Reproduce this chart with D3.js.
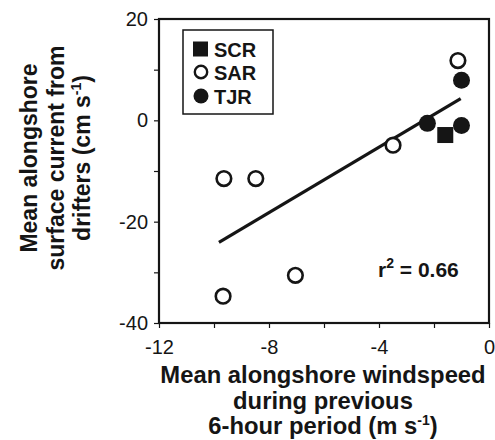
<!DOCTYPE html>
<html>
<head>
<meta charset="utf-8">
<script src="https://cdn.jsdelivr.net/npm/d3@7"></script>
<style>
  html, body { margin: 0; padding: 0; background: #fff; }
  svg { display: block; font-family: Arial, "Liberation Sans", Helvetica, sans-serif; }
</style>
</head>
<body>
<svg id="chart" width="495" height="440"></svg>
<script>
// Wind vs. surface current, by river plume
const sarWind = [-1.13, -3.49, -9.64, -8.48, -7.04, -9.67];
const sarCurrent = [11.8, -4.9, -11.5, -11.5, -30.6, -34.7];
const tjrWind = [-1.0, -2.24, -1.0];
const tjrCurrent = [7.9, -0.6, -1.0];
const scrWind = [-1.59];
const scrCurrent = [-2.9];

// Least-squares fit line end points
const fitWind = [-9.82, -1.03];
const fitCurrent = [-24.1, 4.3];
const rSquared = "0.66";

const xTicks = [-12, -10, -8, -6, -4, -2, 0];
const xTickLabels = ["-12", "", "-8", "", "-4", "", "0"];
const yTicks = [20, 10, 0, -10, -20, -30, -40];
const yTickLabels = ["20", "", "0", "", "-20", "", "-40"];

const legendNames = ["SCR", "SAR", "TJR"];

const svg = d3.select("#chart");
const ink = "#151515";

const x = d3.scaleLinear().domain([-12, 0]).range([159, 489]);
const y = d3.scaleLinear().domain([-40, 20]).range([323, 19]);

// Axes with outward ticks
const xAxis = d3.axisBottom(x).tickValues(xTicks)
  .tickFormat((d, i) => xTickLabels[i]).tickSize(5).tickPadding(8);
const yAxis = d3.axisLeft(y).tickValues(yTicks)
  .tickFormat((d, i) => yTickLabels[i]).tickSize(5).tickPadding(6);

const gx = svg.append("g").attr("transform", `translate(0,${y(-40)})`).call(xAxis);
const gy = svg.append("g").attr("transform", `translate(${x(-12)},0)`).call(yAxis);
[gx, gy].forEach(g => {
  g.select(".domain").remove();
  g.selectAll(".tick line").attr("stroke", ink).attr("stroke-width", 1.2);
  g.selectAll(".tick text").attr("fill", ink).style("font-size", "20px");
});
gx.selectAll(".tick text").attr("dy", "0.9em");

// Frame
svg.append("rect")
  .attr("x", x(-12)).attr("y", y(20))
  .attr("width", x(0) - x(-12)).attr("height", y(-40) - y(20))
  .attr("fill", "none").attr("stroke", ink).attr("stroke-width", 2.2);

// Fit line
svg.append("line")
  .attr("x1", x(fitWind[0])).attr("y1", y(fitCurrent[0]))
  .attr("x2", x(fitWind[1])).attr("y2", y(fitCurrent[1]))
  .attr("stroke", ink).attr("stroke-width", 3.2);

// Points
const sar = sarWind.map((w, i) => ({ w, c: sarCurrent[i] }));
const tjr = tjrWind.map((w, i) => ({ w, c: tjrCurrent[i] }));
const scr = scrWind.map((w, i) => ({ w, c: scrCurrent[i] }));

svg.append("g").selectAll("rect").data(scr).join("rect")
  .attr("x", d => x(d.w) - 8).attr("y", d => y(d.c) - 8)
  .attr("width", 16).attr("height", 16).attr("fill", ink);

svg.append("g").selectAll("circle").data(tjr).join("circle")
  .attr("cx", d => x(d.w)).attr("cy", d => y(d.c)).attr("r", 8.5).attr("fill", ink);

svg.append("g").selectAll("circle").data(sar).join("circle")
  .attr("cx", d => x(d.w)).attr("cy", d => y(d.c)).attr("r", 7.3)
  .attr("fill", "#fff").attr("stroke", ink).attr("stroke-width", 2.6);

// Legend
const lg = svg.append("g");
lg.append("rect").attr("x", 183).attr("y", 30).attr("width", 90).attr("height", 84)
  .attr("fill", "#fff").attr("stroke", ink).attr("stroke-width", 1.5);
const rowY = [49, 72, 96];
lg.append("rect").attr("x", 193).attr("y", rowY[0] - 7.5).attr("width", 15).attr("height", 15).attr("fill", ink);
lg.append("circle").attr("cx", 201).attr("cy", rowY[1]).attr("r", 6.2)
  .attr("fill", "#fff").attr("stroke", ink).attr("stroke-width", 2.4);
lg.append("circle").attr("cx", 201).attr("cy", rowY[2]).attr("r", 7.5).attr("fill", ink);
lg.selectAll("text").data(legendNames).join("text")
  .attr("x", 214).attr("y", (d, i) => rowY[i] + 7.5)
  .attr("fill", ink).style("font-size", "20px").style("font-weight", "bold")
  .text(d => d);

// r-squared annotation
const rt = svg.append("text").attr("x", 378).attr("y", 277)
  .attr("fill", ink).style("font-size", "21px").style("font-weight", "bold");
rt.append("tspan").text("r");
rt.append("tspan").attr("dy", -9).style("font-size", "14px").text("2");
rt.append("tspan").attr("dy", 9).text(" = " + rSquared);

// Axis titles
const xTitle = svg.append("text").attr("text-anchor", "middle")
  .attr("fill", ink).style("font-size", "23.8px").style("font-weight", "bold");
xTitle.append("tspan").attr("x", 323).attr("y", 383).text("Mean alongshore windspeed");
xTitle.append("tspan").attr("x", 323).attr("y", 409).text("during previous");
const l3 = xTitle.append("tspan").attr("x", 323).attr("y", 434);
l3.append("tspan").text("6-hour period (m s");
l3.append("tspan").attr("dy", -9).style("font-size", "14px").text("-1");
l3.append("tspan").attr("dy", 9).text(")");

const yTitle = svg.append("text").attr("text-anchor", "middle")
  .attr("transform", "translate(0,158) rotate(-90)")
  .attr("fill", ink).style("font-size", "23px").style("font-weight", "bold");
yTitle.append("tspan").attr("x", 0).attr("y", 37).text("Mean alongshore");
yTitle.append("tspan").attr("x", 0).attr("y", 64).text("surface current from");
const y3 = yTitle.append("tspan").attr("x", 0).attr("y", 90);
y3.append("tspan").text("drifters (cm s");
y3.append("tspan").attr("dy", -9).style("font-size", "14px").text("-1");
y3.append("tspan").attr("dy", 9).text(")");
</script>
</body>
</html>
